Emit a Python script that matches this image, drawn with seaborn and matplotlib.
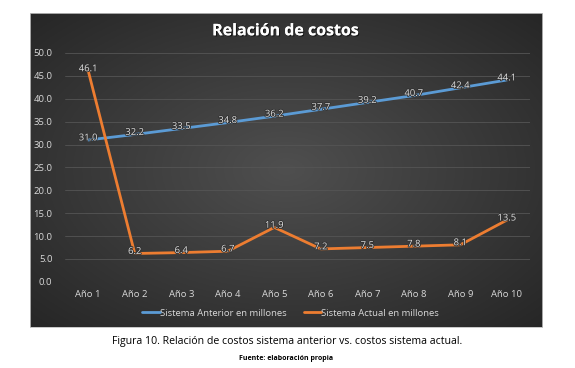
import numpy as np
import pandas as pd
import matplotlib
matplotlib.use("Agg")
import matplotlib.pyplot as plt
import matplotlib.patheffects as pe
import seaborn as sns

# Data
years = ["Año 1", "Año 2", "Año 3", "Año 4", "Año 5",
         "Año 6", "Año 7", "Año 8", "Año 9", "Año 10"]
sistema_anterior = [31.0, 32.2, 33.5, 34.8, 36.2, 37.7, 39.2, 40.7, 42.4, 44.1]
sistema_actual = [46.1, 6.2, 6.4, 6.7, 11.9, 7.2, 7.5, 7.8, 8.1, 13.5]
series_names = ["Sistema Anterior en millones", "Sistema Actual en millones"]
y_ticks = [0, 5, 10, 15, 20, 25, 30, 35, 40, 45, 50]

df = pd.DataFrame({
    "Año": years * 2,
    "Valor": sistema_anterior + sistema_actual,
    "Serie": [series_names[0]] * len(years) + [series_names[1]] * len(years),
})

sns.set_style("dark")
plt.rcParams["font.family"] = ["Open Sans", "DejaVu Sans"]

fig = plt.figure(figsize=(5.75, 3.68), dpi=100)
fig.patch.set_facecolor("white")

# dark chart box with a soft radial gradient
box = fig.add_axes([0.052, 0.111, 0.891, 0.854])
gx, gy = np.meshgrid(np.linspace(-1, 1, 300), np.linspace(-1, 1, 200))
r = np.clip(np.sqrt(gx**2 + gy**2) / 1.414, 0, 1)
shade = 0.31 - 0.16 * r
box.imshow(np.dstack([shade, shade, shade]), aspect="auto", extent=[0, 1, 0, 1])
box.set_xticks([])
box.set_yticks([])
for s in box.spines.values():
    s.set_color("#bfbfbf")
    s.set_linewidth(0.6)

ax = fig.add_axes([0.113, 0.234, 0.809, 0.622])
ax.patch.set_alpha(0)

palette = {series_names[0]: "#5B9BD5", series_names[1]: "#ED7D31"}
df["x"] = df["Año"].map({y: i for i, y in enumerate(years)})
sns.lineplot(data=df, x="x", y="Valor", hue="Serie", palette=palette,
             linewidth=2.0, ax=ax, legend=True)

# data labels, roughly centered on the points
shadow = [pe.withStroke(linewidth=1.2, foreground="#303030")]
for vals in (sistema_anterior, sistema_actual):
    for i, v in enumerate(vals):
        ax.annotate(f"{v:.1f}", (i, v), xytext=(0, 1.5), textcoords="offset points",
                    ha="center", va="center", fontsize=6.8, color="#e0e0e0",
                    path_effects=shadow)

ax.set_xlim(-0.5, len(years) - 0.5)
ax.set_ylim(0, 50)
ax.set_yticks(y_ticks)
ax.set_yticklabels([f"{t:.1f}" for t in y_ticks])
ax.set_xticks(range(len(years)))
ax.set_xticklabels(years)
ax.tick_params(colors="#d9d9d9", labelsize=6.8, length=0, pad=6)
ax.tick_params(axis="y", pad=9)
ax.grid(axis="y", color="#555555", linewidth=0.6)
ax.grid(axis="x", visible=False)
ax.set_xlabel("")
ax.set_ylabel("")
for s in ax.spines.values():
    s.set_visible(False)

leg = ax.legend(loc="upper center", bbox_to_anchor=(0.485, -0.08), ncol=2,
                frameon=False, fontsize=6.8, handlelength=1.9,
                handletextpad=0.0, columnspacing=1.8)
for t in leg.get_texts():
    t.set_color("#d9d9d9")

fig.text(0.497, 0.915, "Relación de costos", ha="center", va="center",
         fontsize=11.5, fontweight="bold", color="white",
         path_effects=[pe.withSimplePatchShadow(offset=(0.8, -0.8), shadow_rgbFace="black", alpha=0.6), pe.Normal()])

fig.text(0.499, 0.071, "Figura 10. Relación de costos sistema anterior vs. costos sistema actual.",
         ha="center", va="center", fontsize=7.6, color="black")
fig.text(0.497, 0.027, "Fuente: elaboración propia", ha="center", va="center",
         fontsize=5.0, fontweight="bold", color="black")

fig.savefig("out.png", dpi=100)
